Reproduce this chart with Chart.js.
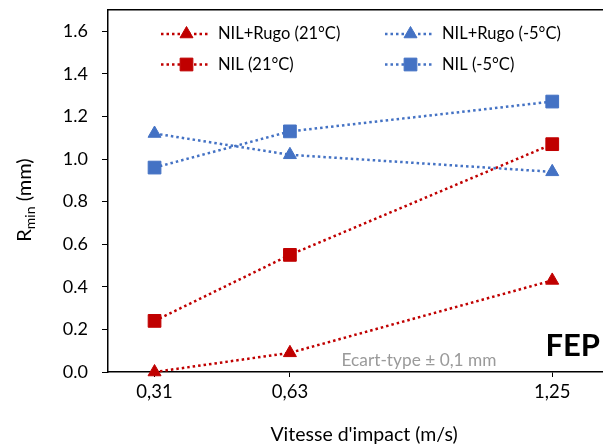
<!DOCTYPE html>
<html><head><meta charset="utf-8">
<script src="https://cdn.jsdelivr.net/npm/chart.js@4.4.1/dist/chart.umd.min.js"></script>
<style>html,body{margin:0;padding:0;background:#fff;overflow:hidden;}#wrap{width:603px;height:445px;overflow:hidden;}</style>
</head><body><div id="wrap"><canvas id="c" width="613" height="445"></canvas></div>
<script>
// ---- data ----
const xValues = [0.31, 0.63, 1.25];
const xTickLabels = ['0,31', '0,63', '1,25'];
const yTicks = [0, 0.2, 0.4, 0.6, 0.8, 1.0, 1.2, 1.4, 1.6];
const seriesNames = ['NIL+Rugo (21°C)', 'NIL+Rugo (-5°C)', 'NIL (21°C)', 'NIL (-5°C)'];
const rugo21 = [0.00, 0.09, 0.43];
const rugoM5 = [1.12, 1.02, 0.94];
const nil21 = [0.24, 0.55, 1.07];
const nilM5 = [0.96, 1.13, 1.27];
const xTitle = "Vitesse d'impact (m/s)";
const yTitleMain = 'R', yTitleSub = 'min', yTitleRest = ' (mm)';
const noteText = 'Ecart-type ± 0,1 mm';
const tagText = 'FEP';

const RED = '#C00000', BLUE = '#4472C4';
const FONT = 'Lato, "Open Sans", sans-serif';

function pts(arr) { return xValues.map((x, i) => ({x: x, y: arr[i]})); }
function ds(label, arr, color, style) {
  return {
    label: label, data: pts(arr), borderColor: color, backgroundColor: color,
    borderWidth: 2.5, borderDash: [2.5, 3], tension: 0, showLine: true, clip: false,
    pointStyle: style, pointRadius: style === 'rect' ? 9 : 7.5, pointHoverRadius: style === 'rect' ? 9 : 7.5,
    pointBackgroundColor: color, pointBorderColor: color, pointBorderWidth: 1
  };
}

function drawMarker(ctx, style, x, y, r, color) {
  ctx.save();
  ctx.fillStyle = color; ctx.strokeStyle = color; ctx.lineWidth = 1; ctx.setLineDash([]);
  ctx.beginPath();
  if (style === 'rect') {
    const s = Math.SQRT1_2 * r;
    ctx.rect(x - s, y - s, 2 * s, 2 * s);
  } else {
    for (let k = 0; k < 3; k++) {
      const a = k * 2 * Math.PI / 3;
      const px = x + Math.sin(a) * r, py = y - Math.cos(a) * r;
      if (k === 0) ctx.moveTo(px, py); else ctx.lineTo(px, py);
    }
    ctx.closePath();
  }
  ctx.fill(); ctx.stroke();
  ctx.restore();
}

const extras = {
  id: 'extras',
  afterDraw(chart) {
    const ctx = chart.ctx, ca = chart.chartArea;
    ctx.save();
    // legend
    chart.data.datasets.forEach((d, i) => {
      const col = i % 2, row = Math.floor(i / 2);
      const x0 = ca.left + (col === 0 ? 53 : 277);
      const y = ca.top + (row === 0 ? 24 : 54.5);
      ctx.save();
      ctx.strokeStyle = d.borderColor; ctx.lineWidth = d.borderWidth; ctx.setLineDash(d.borderDash);
      ctx.beginPath(); ctx.moveTo(x0, y); ctx.lineTo(x0 + 47, y); ctx.stroke();
      ctx.restore();
      drawMarker(ctx, d.pointStyle, x0 + 25.5, y, d.pointStyle === 'rect' ? 9 : 7.5, d.borderColor);
      ctx.fillStyle = '#000'; ctx.font = '16.5px ' + FONT;
      ctx.textBaseline = 'middle'; ctx.textAlign = 'left';
      ctx.fillText(d.label, x0 + 57, y);
    });
    // notes
    ctx.fillStyle = '#9a9a9a'; ctx.font = '17.3px ' + FONT; ctx.textAlign = 'center'; ctx.textBaseline = 'middle';
    ctx.fillText(noteText, 419, 360);
    ctx.fillStyle = '#000'; ctx.font = 'bold 31px ' + FONT; ctx.textAlign = 'right';
    ctx.fillText(tagText, 600, 346);
    // x title
    ctx.font = '19.5px ' + FONT; ctx.textAlign = 'center'; ctx.fillStyle = '#000';
    ctx.fillText(xTitle, 364, 435);
    // y title with subscript
    ctx.translate(24, 200); ctx.rotate(-Math.PI / 2);
    const fMain = '20px ' + FONT, fSub = '14px ' + FONT;
    ctx.font = fMain; const w1 = ctx.measureText(yTitleMain).width, w3 = ctx.measureText(yTitleRest).width;
    ctx.font = fSub; const w2 = ctx.measureText(yTitleSub).width;
    let xx = -(w1 + w2 + w3) / 2;
    ctx.textAlign = 'left'; ctx.textBaseline = 'alphabetic';
    ctx.font = fMain; ctx.fillText(yTitleMain, xx, 7); xx += w1;
    ctx.font = fSub; ctx.fillText(yTitleSub, xx, 11); xx += w2;
    ctx.font = fMain; ctx.fillText(yTitleRest, xx, 7);
    ctx.restore();
  }
};

new Chart(document.getElementById('c'), {
  type: 'line',
  data: {
    datasets: [
      ds(seriesNames[0], rugo21, RED, 'triangle'),
      ds(seriesNames[1], rugoM5, BLUE, 'triangle'),
      ds(seriesNames[2], nil21, RED, 'rect'),
      ds(seriesNames[3], nilM5, BLUE, 'rect')
    ]
  },
  options: {
    responsive: false, animation: false, devicePixelRatio: 1,
    layout: {padding: {top: 10, right: 0, left: 0, bottom: 0}},
    plugins: {legend: {display: false}, tooltip: {enabled: false}},
    scales: {
      x: {
        type: 'linear', position: 'bottom', min: 0.2, max: 1.37,
        afterBuildTicks: s => { s.ticks = xValues.map(v => ({value: v})); },
        afterFit: s => { s.height = 73; s.paddingLeft = 0; s.paddingRight = 0; },
        ticks: {callback: (v, i) => xTickLabels[i], font: {family: FONT, size: 18.5}, color: '#000', padding: 4, maxRotation: 0, autoSkip: false},
        grid: {display: true, drawOnChartArea: false, drawTicks: true, tickLength: 5, tickColor: '#000', color: '#000'},
        border: {display: true, color: '#000', width: 1.5}
      },
      x2: {
        type: 'linear', position: 'top', min: 0, max: 1,
        afterFit: s => { s.height = 0; s.paddingLeft = 0; s.paddingRight = 0; },
        ticks: {display: false}, grid: {display: false},
        border: {display: true, color: '#000', width: 1.5}
      },
      y: {
        type: 'linear', min: 0, max: 1.7,
        afterBuildTicks: s => { s.ticks = yTicks.map(v => ({value: v})); },
        afterFit: s => { s.width = 108; s.paddingTop = 0; s.paddingBottom = 0; },
        ticks: {callback: v => v.toFixed(1), font: {family: FONT, size: 18}, color: '#000', padding: 14},
        grid: {display: true, drawOnChartArea: false, drawTicks: true, tickLength: 6, tickColor: '#000', color: '#000'},
        border: {display: true, color: '#000', width: 1.5}
      }
    }
  },
  plugins: [extras]
});
</script></body></html>
